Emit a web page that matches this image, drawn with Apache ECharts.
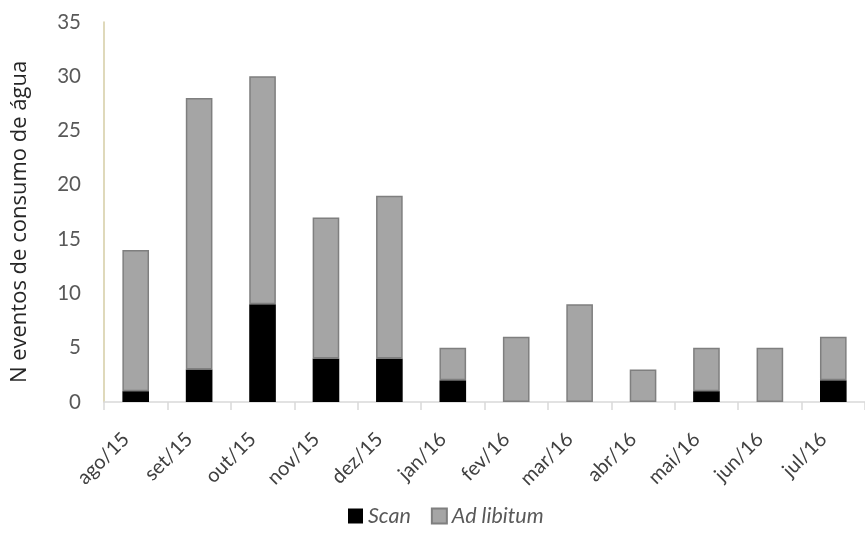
<!DOCTYPE html>
<html>
<head>
<meta charset="utf-8">
<script src="https://cdn.jsdelivr.net/npm/echarts@6/dist/echarts.min.js"></script>
<style>
  html, body { margin: 0; padding: 0; background: #fff; }
  #chart { width: 865px; height: 540px; }
</style>
</head>
<body>
<div id="chart"></div>
<script>
// Monthly water-drinking events, split by sampling method
const months = ['ago/15', 'set/15', 'out/15', 'nov/15', 'dez/15', 'jan/16',
                'fev/16', 'mar/16', 'abr/16', 'mai/16', 'jun/16', 'jul/16'];
const scan      = [1, 3, 9, 4, 4, 2, 0, 0, 0, 1, 0, 2];
const adLibitum = [13, 25, 21, 13, 15, 3, 6, 9, 3, 4, 5, 4];
const yTicks = [0, 5, 10, 15, 20, 25, 30, 35];
const yTitle = 'N eventos de consumo de água';

const font = 'Lato, "Open Sans", sans-serif';
const chart = echarts.init(document.getElementById('chart'));

chart.setOption({
  animation: false,
  backgroundColor: '#fff',
  grid: { left: 104, top: 22, width: 769, height: 380, containLabel: false },
  graphic: [{
    type: 'text',
    x: 20,
    y: 222,
    rotation: Math.PI / 2,
    style: {
      text: yTitle,
      fontFamily: '"Open Sans", sans-serif',
      fontSize: 22,
      fill: '#262626',
      align: 'center',
      verticalAlign: 'middle'
    }
  }],
  legend: {
    left: 343,
    top: 500,
    itemWidth: 15,
    itemHeight: 15,
    itemGap: 20,
    textStyle: { fontFamily: font, fontSize: 21.5, fontStyle: 'italic', color: '#595959' },
    data: [
      { name: 'Scan', icon: 'rect' },
      { name: 'Ad libitum', icon: 'rect' }
    ]
  },
  xAxis: {
    type: 'category',
    data: months,
    axisLine: { lineStyle: { color: '#d9d9d9', width: 1.5 } },
    axisTick: { show: true, alignWithLabel: false, length: 8, lineStyle: { color: '#d9d9d9', width: 1.5 } },
    axisLabel: {
      rotate: 45, margin: 24, padding: [0, 14, 0, 0],
      fontFamily: font, fontSize: 20, color: '#404040'
    }
  },
  yAxis: {
    type: 'value',
    min: yTicks[0],
    max: yTicks[yTicks.length - 1],
    interval: 5,
    axisLine: { show: true, lineStyle: { color: '#d4cca4', width: 1.5 } },
    axisTick: { show: false },
    splitLine: { show: false },
    axisLabel: { margin: 23, fontFamily: font, fontSize: 20.5, color: '#595959' }
  },
  series: [
    {
      name: 'Scan',
      type: 'bar',
      stack: 'total',
      barWidth: '42%',
      data: scan,
      itemStyle: { color: '#000000' }
    },
    {
      name: 'Ad libitum',
      type: 'bar',
      stack: 'total',
      barWidth: '42%',
      data: adLibitum,
      itemStyle: { color: '#a5a5a5', borderColor: '#7f7f7f', borderWidth: 1.5 }
    }
  ]
});
</script>
</body>
</html>
